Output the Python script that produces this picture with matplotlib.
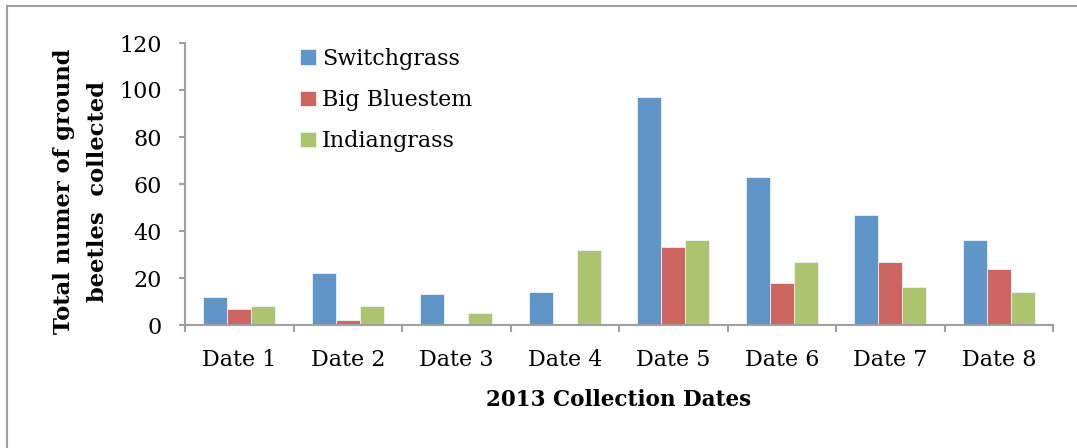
import matplotlib.pyplot as plt
import matplotlib.patches as patches
import numpy as np

dates = ["Date 1", "Date 2", "Date 3", "Date 4", "Date 5", "Date 6", "Date 7", "Date 8"]
switchgrass = [12, 22, 13, 14, 97, 63, 47, 36]
big_bluestem = [7, 2, 0, 0, 33, 18, 27, 24]
indiangrass = [8, 8, 5, 32, 36, 27, 16, 14]

series_names = ["Switchgrass", "Big Bluestem", "Indiangrass"]
colors = ["#5f95c9", "#cd6660", "#acc46d"]


def main():
    plt.rcParams['font.family'] = ['DejaVu Serif']

    fig = plt.figure(figsize=(10.77, 4.48), dpi=100)
    ax = fig.add_axes([185 / 1077, 1 - 325 / 448, (1053 - 185) / 1077, (325 - 43) / 448])

    x = np.arange(len(dates))
    w = 0.222
    data = [switchgrass, big_bluestem, indiangrass]
    for i in range(3):
        ax.bar(x + (i - 1) * w, data[i], width=w, color=colors[i],
               edgecolor="#eef2f7", linewidth=0.6, label=series_names[i], zorder=2)

    ax.set_xlim(-0.5, len(dates) - 0.5)
    ax.set_ylim(0, 120)
    ax.set_yticks(range(0, 121, 20))

    ax.set_xticks(x)
    ax.set_xticklabels(dates, fontsize=16)
    ax.set_xticks(np.arange(-0.5, len(dates)), minor=True)
    ax.tick_params(axis='x', which='major', length=0, pad=17.5)
    ax.tick_params(axis='x', which='minor', length=5, width=1.5, color="#a0a0a0")
    ax.tick_params(axis='y', length=4.5, width=1.5, color="#a0a0a0", pad=12, labelsize=16)

    for s in ["top", "right"]:
        ax.spines[s].set_visible(False)
    for s in ["left", "bottom"]:
        ax.spines[s].set_color("#a0a0a0")
        ax.spines[s].set_linewidth(1.5)

    ax.set_xlabel("2013 Collection Dates", fontsize=15.5, fontweight="bold", labelpad=13)

    fig.text(81 / 1077, 1 - 191 / 448, "Total numer of ground\nbeetles  collected",
             rotation=90, ha="center", va="center", multialignment="center",
             fontsize=16.3, fontweight="bold", linespacing=1.75)

    ax.legend(loc="upper left", bbox_to_anchor=(300 / 1077, 1 - 48 / 448),
              bbox_transform=fig.transFigure, frameon=False, fontsize=16,
              handlelength=0.7, handleheight=0.7, handletextpad=0.3,
              labelspacing=0.86, borderpad=0, borderaxespad=0)

    # outer chart frame
    frame = patches.Rectangle((6.5 / 1077, -0.1), 1.2, 1.1 - 6.5 / 448,
                              transform=fig.transFigure, fill=False,
                              edgecolor="#a0a0a0", linewidth=1.5, clip_on=False)
    fig.patches.append(frame)

    fig.savefig("out.png", dpi=100)


if __name__ == "__main__":
    main()
